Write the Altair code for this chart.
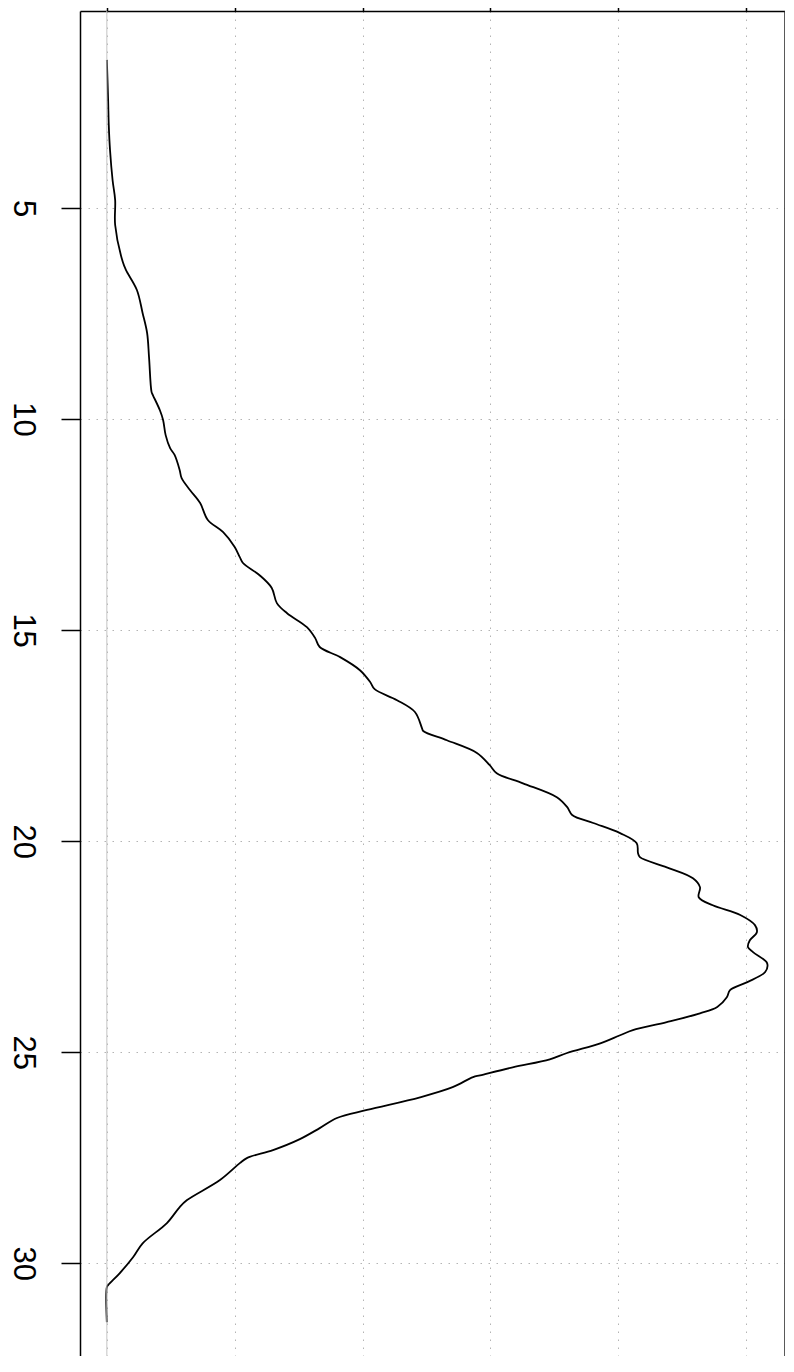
import altair as alt
import pandas as pd

# Kernel density estimate (plot is rotated: value runs down, density runs right)
value = [1.49, 2.44, 3.03, 3.63, 4.34, 4.81, 5.40, 6.28, 6.47, 6.94, 7.49, 7.96, 8.53, 9.36, 9.43,
         9.79, 10.02, 10.38, 10.69, 10.85, 11.21, 11.40, 11.68, 11.99, 12.39, 12.68, 13.03, 13.27,
         13.41, 13.70, 14.00, 14.36, 14.60, 14.93, 15.19, 15.40, 15.64, 15.95, 16.23, 16.40, 16.66,
         16.94, 17.32, 17.39, 17.61, 17.91, 18.20, 18.39, 18.63, 18.96, 19.19, 19.38, 19.57, 19.81,
         20.05, 20.28, 20.38, 20.62, 20.88, 21.09, 21.33, 21.52, 21.75, 21.99, 22.16, 22.35, 22.51,
         22.63, 22.89, 23.10, 23.34, 23.53, 23.70, 23.93, 24.08, 24.29, 24.48, 24.60, 24.79, 25.02,
         25.17, 25.36, 25.55, 25.59, 25.83, 26.07, 26.37, 26.56, 26.80, 27.06, 27.32, 27.51, 27.63,
         28.03, 28.51, 28.67, 29.05, 29.53, 29.86, 30.24, 30.52, 30.57, 31.40]
density = [0.0000, 0.0002, 0.0003, 0.0005, 0.0009, 0.0013, 0.0013, 0.0025, 0.0030, 0.0047, 0.0056,
           0.0063, 0.0066, 0.0070, 0.0072, 0.0083, 0.0088, 0.0092, 0.0099, 0.0106, 0.0114, 0.0117,
           0.0130, 0.0146, 0.0158, 0.0182, 0.0200, 0.0208, 0.0213, 0.0239, 0.0258, 0.0266, 0.0282,
           0.0313, 0.0326, 0.0333, 0.0365, 0.0396, 0.0412, 0.0419, 0.0454, 0.0482, 0.0493, 0.0495,
           0.0532, 0.0579, 0.0599, 0.0610, 0.0651, 0.0704, 0.0720, 0.0728, 0.0761, 0.0803, 0.0829,
           0.0831, 0.0834, 0.0876, 0.0917, 0.0928, 0.0926, 0.0948, 0.0991, 0.1014, 0.1017, 0.1006,
           0.1003, 0.1011, 0.1033, 0.1030, 0.1002, 0.0975, 0.0970, 0.0955, 0.0928, 0.0876, 0.0823,
           0.0803, 0.0772, 0.0720, 0.0693, 0.0635, 0.0584, 0.0573, 0.0541, 0.0490, 0.0407, 0.0360,
           0.0333, 0.0302, 0.0260, 0.0219, 0.0208, 0.0177, 0.0125, 0.0114, 0.0094, 0.0056, 0.0041,
           0.0020, 0.0002, 0.0000, 0.0000]

density_ticks = [0, 0.02, 0.04, 0.06, 0.08, 0.10]
value_ticks = [5, 10, 15, 20, 25, 30]
density_domain = [-0.0042, 0.1061]
value_domain = [0.33, 32.20]

df = pd.DataFrame({"value": value, "density": density, "i": list(range(len(value)))})
zero_df = pd.DataFrame({"z": [0.0]})
edge_df = pd.DataFrame({"edge": [density_domain[1]]})

xs = alt.Scale(domain=density_domain, nice=False, zero=False)
ys = alt.Scale(domain=value_domain, nice=False, zero=False, reverse=True)

grid_color = "#b4b4b4"

x_axis = alt.Axis(orient="top", values=density_ticks, labels=False, tickSize=11,
                  tickColor="black", tickWidth=1.5, domain=True, domainColor="black",
                  domainWidth=1.5, grid=True, gridColor=grid_color, gridDash=[1.5, 6.5],
                  gridWidth=1, title=None)
y_axis = alt.Axis(orient="left", values=value_ticks, tickSize=19, tickColor="black",
                  tickWidth=1.5, labelAngle=90, labelAlign="center",
                  labelBaseline="middle", labelFontSize=31, labelFont="Liberation Sans",
                  labelColor="black", labelPadding=39, domain=True, domainColor="black",
                  domainWidth=1.5, grid=True, gridColor=grid_color, gridDash=[1.5, 6.5],
                  gridWidth=1, title=None)

line = alt.Chart(df).mark_line(color="black", strokeWidth=1.8, interpolate="catmull-rom").encode(
    x=alt.X("density:Q", scale=xs, axis=x_axis),
    y=alt.Y("value:Q", scale=ys, axis=y_axis),
    order="i:Q",
)

zero = alt.Chart(zero_df).mark_rule(color="#c4c4c4", strokeWidth=1).encode(
    x=alt.X("z:Q", scale=xs, axis=x_axis)
)

edge = alt.Chart(edge_df).mark_rule(color="#222222", strokeWidth=1.5).encode(
    x=alt.X("edge:Q", scale=xs, axis=x_axis)
)

chart = alt.layer(line, zero, edge).properties(
    width=705, height=1345,
    padding={"left": 72, "top": 3, "right": 0, "bottom": 0},
    autosize=alt.AutoSizeParams(type="none"),
).configure_view(stroke=None)

chart.save("out.html", embed_options={"renderer": "svg", "actions": False})
